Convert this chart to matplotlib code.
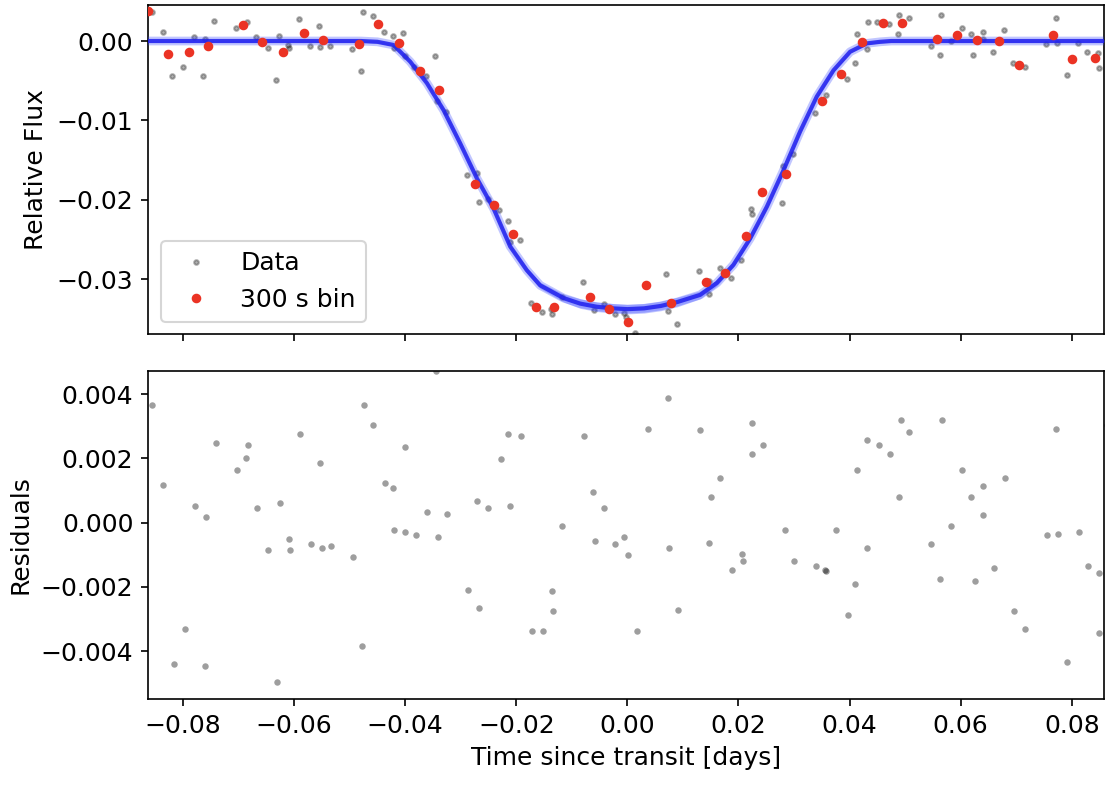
import matplotlib
matplotlib.use("Agg")
import matplotlib.pyplot as plt

plt.rcParams['font.family'] = ['DejaVu Sans']
plt.rcParams['font.size'] = 12

# ---- raw data (light curve) ----
t_data = [-0.08562, -0.08364, -0.08191, -0.07993, -0.07800, -0.07633, -0.07602, -0.07435,
          -0.07039, -0.06851, -0.06679, -0.06473, -0.06319, -0.06275, -0.06108, -0.06085,
          -0.05910, -0.05717, -0.05550, -0.05527, -0.05352, -0.04961, -0.04788, -0.04758,
          -0.04583, -0.04385, -0.04223, -0.04200, -0.04032, -0.04002, -0.03834, -0.03624,
          -0.03467, -0.03431, -0.03269, -0.02880, -0.02706, -0.02675, -0.02513, -0.02310,
          -0.02148, -0.02112, -0.01937, -0.01739, -0.01541, -0.01379, -0.01356, -0.01181,
          -0.00792, -0.00599, -0.00419, -0.00221, -0.00054, -0.00023, 0.00139, 0.00702,
          0.00733, 0.00900, 0.01291, 0.01465, 0.01471, 0.01663, 0.01861, 0.02052,
          0.02221, 0.02250, 0.02785, 0.02808, 0.02977, 0.03379, 0.03572, 0.03950,
          0.04104, 0.04135, 0.04310, 0.04328, 0.04500, 0.04706, 0.04868, 0.04896,
          0.05071, 0.05462, 0.05624, 0.05653, 0.05822, 0.06025, 0.06187, 0.06223,
          0.06409, 0.06398, 0.06589, 0.06781, 0.06943, 0.07154, 0.07537, 0.07712,
          0.07741, 0.07910, 0.08108, 0.08270, 0.08473, 0.08497]
f_data = [0.00369, 0.00117, -0.00441, -0.00332, 0.00054, -0.00445, 0.00021, 0.00248,
          0.00168, 0.00243, 0.00050, -0.00084, -0.00495, 0.00063, -0.00050, -0.00084,
          0.00277, -0.00063, 0.00189, -0.00076, -0.00067, -0.00105, -0.00382, 0.00369,
          0.00311, 0.00113, 0.00063, -0.00084, 0.00101, -0.00185, -0.00324, -0.00441,
          -0.00193, -0.00753, -0.00895, -0.01693, -0.01664, -0.02033, -0.01988, -0.02134,
          -0.02265, -0.02534, -0.02505, -0.03299, -0.03420, -0.03378, -0.03445, -0.03231,
          -0.03042, -0.03395, -0.03315, -0.03441, -0.03429, -0.03475, -0.03685, -0.02941,
          -0.03404, -0.03564, -0.02896, -0.03185, -0.03025, -0.02865, -0.02988, -0.02764,
          -0.02122, -0.02181, -0.02042, -0.01576, -0.01424, -0.00904, -0.00681, -0.00475,
          -0.00281, 0.00088, -0.00105, 0.00240, 0.00243, 0.00214, 0.00084, 0.00324,
          0.00286, -0.00067, -0.00176, 0.00324, -0.00004, 0.00164, 0.00084, -0.00180,
          0.00113, 0.00029, -0.00139, 0.00142, -0.00274, -0.00332, -0.00034, 0.00294,
          -0.00025, -0.00432, -0.00025, -0.00135, -0.00155, -0.00344]

# ---- 300 s binned data ----
t_bin = [-0.08631, -0.08274, -0.07890, -0.07554, -0.06913, -0.06571, -0.06193, -0.05815,
         -0.05473, -0.04835, -0.04488, -0.04110, -0.03726, -0.03390, -0.02747, -0.02409,
         -0.02063, -0.01644, -0.01314, -0.00671, -0.00324, 0.00018, 0.00337, 0.00781,
         0.01417, 0.01764, 0.02137, 0.02425, 0.02857, 0.03500, 0.03842, 0.04220,
         0.04603, 0.04945, 0.05581, 0.05930, 0.06301, 0.06691, 0.07057, 0.07663,
         0.08011, 0.08414]
f_bin = [0.00378, -0.00160, -0.00139, -0.00059, 0.00205, -0.00016, -0.00142, 0.00105,
         0.00013, -0.00042, 0.00214, -0.00029, -0.00382, -0.00614, -0.01799, -0.02061,
         -0.02437, -0.03357, -0.03349, -0.03227, -0.03382, -0.03542, -0.03072, -0.03303,
         -0.03034, -0.02928, -0.02458, -0.01903, -0.01680, -0.00760, -0.00420, -0.00016,
         0.00231, 0.00231, 0.00025, 0.00079, 0.00009, 0.00000, -0.00306, 0.00076,
         -0.00231, -0.00211]

# ---- transit model ----
model_t = [-0.0863, -0.0480, -0.0450, -0.0421, -0.0391, -0.0361, -0.0331, -0.0301,
           -0.0271, -0.0241, -0.0211, -0.0181, -0.0157, -0.0115, -0.0085, -0.0055,
           -0.0026, 0.0000, 0.0030, 0.0060, 0.0090, 0.0131, 0.0161, 0.0191,
           0.0221, 0.0251, 0.0281, 0.0311, 0.0341, 0.0371, 0.0401, 0.0431,
           0.0455, 0.0475, 0.0863]
model_f = [0.0, 0.0, -0.0001, -0.0005, -0.0026, -0.0053, -0.0087, -0.0129,
           -0.0173, -0.0211, -0.0259, -0.0289, -0.0308, -0.0324, -0.0331, -0.0335,
           -0.0337, -0.0338, -0.0337, -0.0334, -0.0329, -0.0320, -0.0305, -0.0282,
           -0.0249, -0.0209, -0.0163, -0.0114, -0.0070, -0.0037, -0.00135, -0.0003,
           -0.0001, 0.0, 0.0]
model_band = [0.00015, 0.00015, 0.00015, 0.00015, 0.00015, 0.00015, 0.00015, 0.00015,
              0.00015, 0.00015, 0.0002, 0.0003, 0.0004, 0.0005, 0.0006, 0.0006,
              0.0006, 0.0006, 0.0006, 0.0006, 0.0006, 0.0005, 0.0004, 0.0003,
              0.0002, 0.00015, 0.00015, 0.00015, 0.00015, 0.00015, 0.00015, 0.00015,
              0.00015, 0.00015, 0.00015]

# ---- residuals ----
t_res = [-0.08556, -0.08364, -0.08166, -0.07968, -0.07777, -0.07608, -0.07579, -0.07410,
         -0.07026, -0.06864, -0.06834, -0.06671, -0.06473, -0.06311, -0.06247, -0.06085,
         -0.06077, -0.05887, -0.05694, -0.05527, -0.05496, -0.05334, -0.04943, -0.04781,
         -0.04745, -0.04583, -0.04362, -0.04223, -0.04194, -0.04002, -0.04002, -0.03804,
         -0.03606, -0.03449, -0.03413, -0.03246, -0.02862, -0.02700, -0.02664, -0.02502,
         -0.02274, -0.02142, -0.02112, -0.01914, -0.01721, -0.01523, -0.01361, -0.01332,
         -0.01170, -0.00774, -0.00612, -0.00576, -0.00419, -0.00221, -0.00059, 0.00004,
         0.00169, 0.00367, 0.00727, 0.00756, 0.00918, 0.01309, 0.01471, 0.01501,
         0.01663, 0.01890, 0.02059, 0.02088, 0.02250, 0.02250, 0.02448, 0.02833,
         0.02996, 0.03392, 0.03554, 0.03582, 0.03752, 0.03973, 0.04104, 0.04140,
         0.04320, 0.04320, 0.04531, 0.04724, 0.04886, 0.04922, 0.05077, 0.05467,
         0.05629, 0.05665, 0.05827, 0.06025, 0.06187, 0.06254, 0.06409, 0.06409,
         0.06607, 0.06799, 0.06961, 0.07159, 0.07550, 0.07717, 0.07748, 0.07910,
         0.08137, 0.08299, 0.08497, 0.08497, 0.08630]
res = [0.00365, 0.00118, -0.00439, -0.00332, 0.00051, -0.00445, 0.00017, 0.00248,
       0.00163, 0.00202, 0.00242, 0.00045, -0.00084, -0.00495, 0.00062, -0.00051,
       -0.00084, 0.00276, -0.00067, 0.00186, -0.00079, -0.00073, -0.00107, -0.00383,
       0.00365, 0.00304, 0.00125, 0.00107, -0.00023, 0.00237, -0.00028, -0.00039,
       0.00034, 0.00472, -0.00045, 0.00028, -0.00209, 0.00068, -0.00265, 0.00045,
       0.00197, 0.00276, 0.00051, 0.00270, -0.00337, -0.00337, -0.00214, -0.00276,
       -0.00011, 0.00270, 0.00096, -0.00056, 0.00045, -0.00067, -0.00045, -0.00101,
       -0.00337, 0.00293, 0.00388, -0.00079, -0.00271, 0.00288, -0.00062, 0.00079,
       0.00140, -0.00146, -0.00096, -0.00118, 0.00309, 0.00214, 0.00242, -0.00023,
       -0.00118, -0.00135, -0.00146, -0.00151, -0.00023, -0.00287, -0.00191, 0.00163,
       0.00258, -0.00079, 0.00242, 0.00214, 0.00079, 0.00321, 0.00281, -0.00067,
       -0.00174, 0.00321, -0.00011, 0.00163, 0.00079, -0.00181, 0.00113, 0.00023,
       -0.00140, 0.00140, -0.00276, -0.00332, -0.00039, 0.00293, -0.00034, -0.00433,
       -0.00028, -0.00135, -0.00158, -0.00343, 0.00304]

W, H = 1118, 796
fig = plt.figure(figsize=(W / 150, H / 150), dpi=150)
left = 148 / W
width = (1104 - 148) / W
ax1 = fig.add_axes([left, 1 - 334.3 / H, width, (334.3 - 5) / H])
ax2 = fig.add_axes([left, 1 - 699.3 / H, width, (699.3 - 370.7) / H], sharex=ax1)

# top panel
ax1.plot(t_data, f_data, '.', color='k', alpha=0.3, ms=4.4, mew=1.0, label='Data', zorder=2)
lo = [m - b for m, b in zip(model_f, model_band)]
hi = [m + b for m, b in zip(model_f, model_band)]
ax1.fill_between(model_t, lo, hi, color='#3344ff', alpha=0.3, lw=0, zorder=3)
ax1.plot(model_t, model_f, '-', color='#3344ff', lw=4.2, alpha=0.3, zorder=3,
         solid_joinstyle='round')
ax1.plot(model_t, model_f, '-', color='#1f1fee', lw=2.0, alpha=0.85, zorder=4,
         solid_joinstyle='round')
ax1.plot(t_bin, f_bin, 'o', color='#eb3324', ms=3.6, mew=1.0, label='300 s bin', zorder=5)
ax1.set_ylabel('Relative Flux')
ax1.set_ylim(-0.03697, 0.00454)
ax1.set_yticks([0.0, -0.01, -0.02, -0.03])
ax1.tick_params(labelbottom=False)
ax1.legend(loc='lower left')

# bottom panel
ax2.plot(t_res, res, '.', color='k', alpha=0.38, ms=6.2, mew=0, zorder=2)
ax2.set_ylabel('Residuals')
ax2.set_xlabel('Time since transit [days]')
ax2.set_ylim(-0.005497, 0.004731)
ax2.set_yticks([0.004, 0.002, 0.0, -0.002, -0.004])
ax2.set_xlim(-0.0863, 0.0858)
ax2.set_xticks([-0.08, -0.06, -0.04, -0.02, 0.0, 0.02, 0.04, 0.06, 0.08])

fig.savefig('out.png', dpi=150)
